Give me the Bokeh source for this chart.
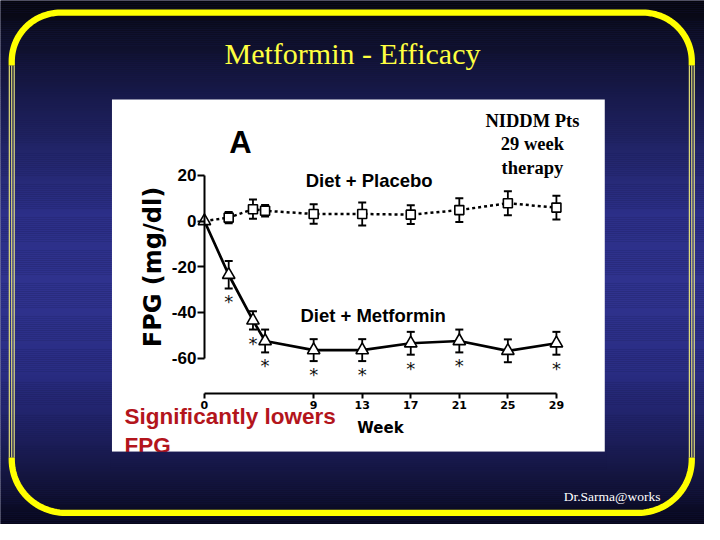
import numpy as np
from bokeh.plotting import figure
from bokeh.models import Range1d, FixedTicker
from bokeh.core.properties import value
from bokeh.embed import file_html
from bokeh.resources import INLINE

# ---------------- data ----------------
title_text = "Metformin - Efficacy"
footer_text = "Dr.Sarma@works"
note_lines = ["NIDDM Pts", "29 week", "therapy"]
claim_lines = ["Significantly lowers", "FPG"]
panel_letter = "A"
placebo_name = "Diet + Placebo"
metformin_name = "Diet + Metformin"
x_title = "Week"
y_title = "FPG (mg/dl)"

weeks = [0, 2, 4, 5, 9, 13, 17, 21, 25, 29]
placebo = [0, 1.5, 5.2, 4.5, 3.1, 3.1, 2.8, 4.8, 7.8, 5.9]
placebo_se = [0, 2.5, 4.2, 2.5, 4.3, 5.0, 4.1, 5.2, 5.2, 5.2]
metformin = [0, -23.5, -43.5, -52.5, -56.5, -56.5, -53.5, -52.5, -56.8, -53.5]
metformin_se = [0, 6.0, 4.0, 5.0, 4.8, 4.8, 5.0, 5.0, 5.0, 5.0]
significant = [False, True, True, True, True, True, True, True, False, True]

x_ticks = [0, 9, 13, 17, 21, 25, 29]
y_ticks = [20, 0, -20, -40, -60]
y_tick_labels = ["20", "0", "-20", "-40", "-60"]

# ---------------- figure ----------------
W, H = 704, 524
BG = "#1a1c50"
p = figure(width=W, height=H, output_backend="svg", toolbar_location=None,
           x_range=Range1d(-16.80, 41.20), y_range=Range1d(-132.84, 96.56),
           min_border=0, outline_line_color=None,
           background_fill_color=BG, border_fill_color=BG)
# slide coordinates: 720 x 540 units spread over the whole canvas
p.extra_x_ranges = {"px": Range1d(0, 720)}
p.extra_y_ranges = {"py": Range1d(0, 540)}
p.grid.visible = False

PX = dict(x_range_name="px", y_range_name="py")


def sy(y):
    return 540 - np.asarray(y, dtype=float)


def lift(size):
    # raise text so that the alphabetic baseline lands on the given y
    return -0.31 * size


# background gradient (slide)
stop_y = [0, 40, 100, 160, 220, 300, 380, 440, 490, 540]
stop_c = ["#06060c", "#0e0f28", "#181a4c", "#23266c", "#2c2f88", "#30338f",
          "#2a2d84", "#1f2164", "#14153f", "#07071a"]
stop_rgb = np.array([[int(c[i:i + 2], 16) for i in (1, 3, 5)] for c in stop_c], float)


def band_colors(y_mid):
    r = np.interp(y_mid, stop_y, stop_rgb[:, 0])
    g = np.interp(y_mid, stop_y, stop_rgb[:, 1])
    b = np.interp(y_mid, stop_y, stop_rgb[:, 2])
    return ["#%02x%02x%02x" % (int(a), int(bb), int(cc)) for a, bb, cc in zip(r, g, b)]


edges = np.arange(-2, 544, 2)
y0, y1 = edges[:-1], edges[1:]
p.quad(left=-2, right=722, top=sy(y0), bottom=sy(y1), fill_color=band_colors((y0 + y1) / 2),
       line_color=None, **PX)

# yellow frame
L, R, T, B = 11.5, 707.0, 12.5, 528.0


def arc(cx, cy, r, a0, a1, n=30):
    t = np.linspace(a0, a1, n)
    return list(cx + r * np.cos(t)), list(cy + r * np.sin(t))


r1, r2 = 50, 55
ax1, ay1 = arc(L + r1, T + r1, r1, np.pi, 1.5 * np.pi)
ax2, ay2 = arc(R - r1, T + r1, r1, 1.5 * np.pi, 2 * np.pi)
top_x = [L] + ax1 + ax2 + [R]
top_y = [67] + ay1 + ay2 + [67]
p.line(top_x, sy(top_y), line_color="#ffff00", line_width=6.3, **PX)
bx1, by1 = arc(L + r2, B - r2, r2, np.pi, 0.5 * np.pi)
bx2, by2 = arc(R - r2, B - r2, r2, 0.5 * np.pi, 0)
bot_x = [L] + bx1 + bx2 + [R]
bot_y = [471] + by1 + by2 + [471]
p.line(bot_x, sy(bot_y), line_color="#ffff00", line_width=6.3, **PX)
for dx in (-2.5, 0, 2.5):
    p.segment(x0=[L + dx, R + dx], y0=sy([67, 67]), x1=[L + dx, R + dx], y1=sy([471, 471]),
              line_color="#f4f07a", line_width=1.1, **PX)

# slide title and footer
p.text(x=[360], y=sy([64]), text=[title_text], text_align="center", text_baseline="alphabetic",
       y_offset=lift(30), text_font=value("Liberation Serif"), text_font_size="30px",
       text_color="#ffff40", **PX)
p.text(x=[576], y=sy([515]), text=[footer_text], text_align="left", text_baseline="alphabetic",
       y_offset=lift(13.5), text_font=value("Liberation Serif"), text_font_size="13.5px",
       text_color="white", **PX)

# white chart panel
p.quad(left=[114], right=[618], top=sy([102]), bottom=sy([465]), fill_color="white",
       line_color=None, **PX)

# ---------------- chart ----------------
wk = np.array(weeks, float)
pl = np.array(placebo, float)
ple = np.array(placebo_se, float)
me = np.array(metformin, float)
mee = np.array(metformin_se, float)
mask_p = ple > 0
mask_m = mee > 0

p.line(wk, pl, line_color="black", line_width=2.5, line_dash="3 3")
p.line(wk, me, line_color="black", line_width=2.7)

for m, v, e in ((mask_p, pl, ple), (mask_m, me, mee)):
    p.segment(x0=wk[m], y0=v[m] - e[m], x1=wk[m], y1=v[m] + e[m], line_color="black", line_width=1.8)
    p.scatter(wk[m], v[m] + e[m], marker="dash", size=8, line_color="black", line_width=2)
    p.scatter(wk[m], v[m] - e[m], marker="dash", size=8, line_color="black", line_width=2)

p.scatter(wk[1:], pl[1:], marker="square", size=9, fill_color="white", line_color="black",
          line_width=1.6)
p.scatter(wk, me, marker="triangle", size=12.5, fill_color="white", line_color="black",
          line_width=1.6)

sig = np.array(significant)
n_sig = int(sig.sum())
p.text(x=wk[sig], y=(me - mee)[sig], text=["*"] * n_sig, text_align="center",
       text_baseline="alphabetic", y_offset=13.5, text_font=value("DejaVu Sans"),
       text_font_size="18px", text_color="#111111")

# series labels and panel letter
p.text(x=[8.34], y=[15.4], text=[placebo_name], text_align="left", text_baseline="alphabetic",
       y_offset=lift(18.5), text_font=value("Liberation Sans"), text_font_style="bold",
       text_font_size="18.5px", text_color="black")
p.text(x=[7.91], y=[-43.9], text=[metformin_name], text_align="left", text_baseline="alphabetic",
       y_offset=lift(18.5), text_font=value("Liberation Sans"), text_font_style="bold",
       text_font_size="18.5px", text_color="black")
p.text(x=[2.05], y=[30.0], text=[panel_letter], text_align="left", text_baseline="alphabetic",
       y_offset=lift(31), text_font=value("Liberation Sans"), text_font_style="bold",
       text_font_size="31px", text_color="black")

# note in upper right
p.text(x=[544] * 3, y=sy([130, 154.3, 178.7]), text=note_lines, text_align="center",
       text_baseline="alphabetic", y_offset=lift(18.5), text_font=value("Liberation Serif"),
       text_font_style="bold", text_font_size="18.5px", text_color="black", **PX)

# red claim text (second line clipped by panel edge)
p.text(x=[126.7, 126.7], y=sy([436, 465.5]), text=claim_lines, text_align="left",
       text_baseline="alphabetic", y_offset=lift(22.5), text_font=value("Liberation Sans"),
       text_font_style="bold", text_font_size="22.5px", text_color="#b3151c", **PX)
ce = np.arange(465, 485, 2)
c0, c1 = ce[:-1], ce[1:]
p.quad(left=112, right=620, top=sy(c0), bottom=sy(c1), fill_color=band_colors((c0 + c1) / 2),
       line_color=None, **PX)

# axes
xa = p.xaxis[0]
xa.fixed_location = -75.3
xa.bounds = (0, 29)
xa.ticker = FixedTicker(ticks=x_ticks)
xa.axis_line_width = 2
xa.axis_line_color = "black"
xa.major_tick_line_width = 2
xa.major_tick_out = 5
xa.major_tick_in = 0
xa.minor_tick_line_color = None
xa.major_label_text_font = "DejaVu Sans"
xa.major_label_text_font_style = "bold"
xa.major_label_text_font_size = "11px"
xa.major_label_text_color = "black"
xa.major_label_standoff = 3
xa.axis_label = x_title
xa.axis_label_text_font = "DejaVu Sans"
xa.axis_label_text_font_style = "bold"
xa.axis_label_text_font_size = "15px"
xa.axis_label_text_color = "black"
xa.axis_label_standoff = 6

ya = p.yaxis[0]
ya.fixed_location = 0
ya.bounds = (-60, 20)
ya.ticker = FixedTicker(ticks=y_ticks)
ya.major_label_overrides = dict(zip(y_ticks, y_tick_labels))
ya.axis_line_width = 2
ya.axis_line_color = "black"
ya.major_tick_line_width = 2
ya.major_tick_out = 7
ya.major_tick_in = 0
ya.minor_tick_line_color = None
ya.major_label_text_font = "Liberation Sans"
ya.major_label_text_font_style = "bold"
ya.major_label_text_font_size = "17px"
ya.major_label_text_color = "black"
ya.major_label_standoff = 1
ya.axis_label = y_title
ya.axis_label_text_font = "DejaVu Sans"
ya.axis_label_text_font_style = "bold"
ya.axis_label_text_font_size = "24px"
ya.axis_label_text_color = "black"
ya.axis_label_standoff = 2

open("out.html", "w").write(file_html(p, INLINE))
